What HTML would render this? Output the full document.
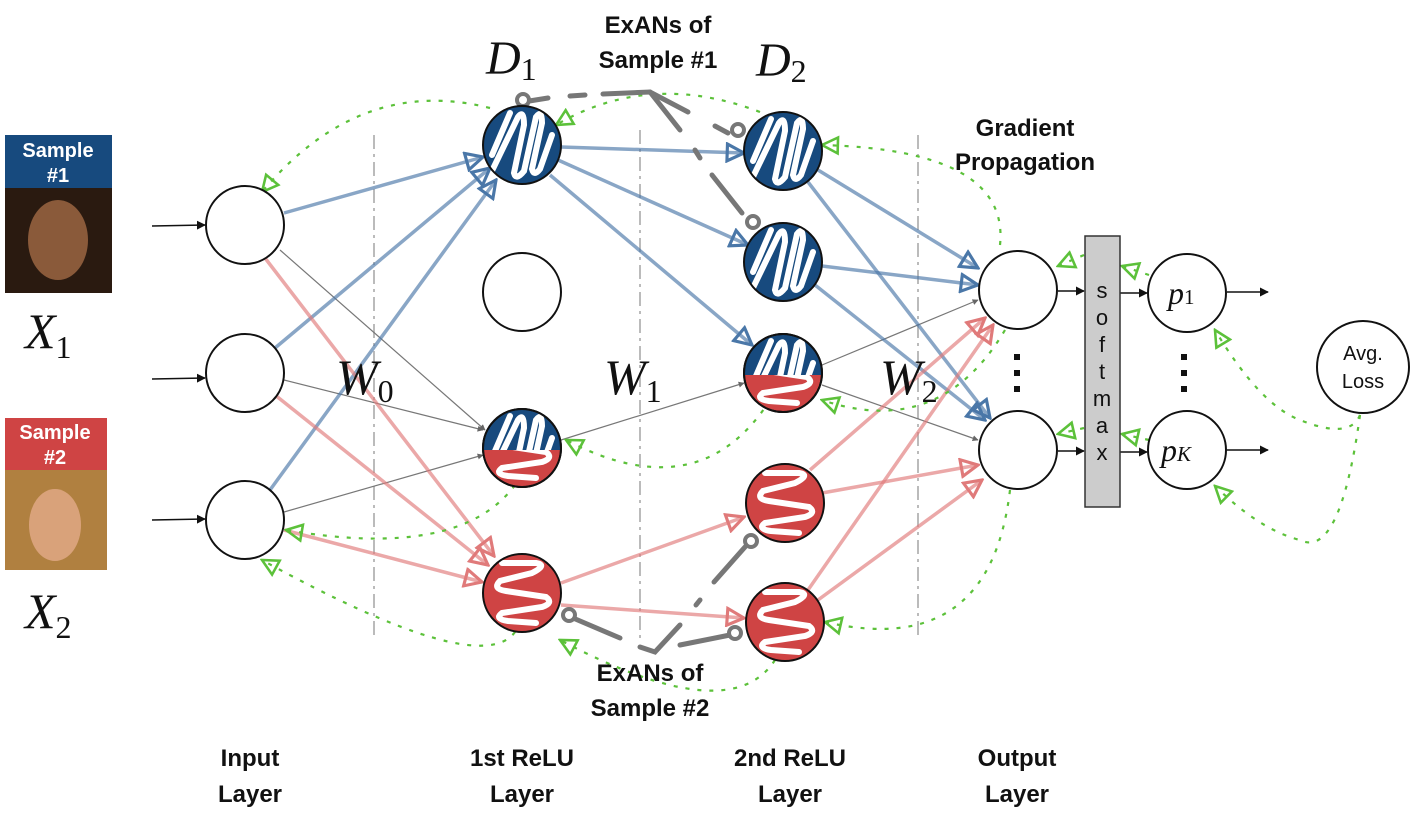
<!DOCTYPE html>
<html><head><meta charset="utf-8"><style>
html,body{margin:0;padding:0;background:#fff;}
svg{display:block;}
.b{font-family:"Liberation Sans",sans-serif;font-weight:bold;fill:#111;}
.m{font-family:"Liberation Serif",serif;font-style:italic;fill:#111;}
</style></head><body>
<svg width="1411" height="819" viewBox="0 0 1411 819" xmlns="http://www.w3.org/2000/svg">
<defs>
<marker id="ab" viewBox="0 0 10 10" refX="9" refY="5" markerWidth="6" markerHeight="6" orient="auto"><path d="M0,0 L10,5 L0,10 z" fill="#111"/></marker>
<marker id="ag" viewBox="0 0 10 10" refX="9" refY="5" markerWidth="5" markerHeight="5" orient="auto"><path d="M0,0 L10,5 L0,10 z" fill="#666"/></marker>
<marker id="abl" viewBox="0 0 10 10" refX="9" refY="5" markerWidth="6" markerHeight="6" orient="auto"><path d="M1,1 L9,5 L1,9 z" fill="none" stroke="#4a77a8" stroke-width="1.5"/></marker>
<marker id="ard" viewBox="0 0 10 10" refX="9" refY="5" markerWidth="6" markerHeight="6" orient="auto"><path d="M1,1 L9,5 L1,9 z" fill="none" stroke="#e07a7a" stroke-width="1.5"/></marker>
<marker id="agr" viewBox="0 0 10 10" refX="9" refY="5" markerWidth="9" markerHeight="9" orient="auto"><path d="M1,1 L9,5 L1,9 z" fill="none" stroke="#5cc13a" stroke-width="1.3"/></marker>
<clipPath id="cc"><circle cx="0" cy="0" r="39"/></clipPath>
<g id="bw"><circle r="39" fill="#174a7e"/><path clip-path="url(#cc)" d="M-30,10 L-12,-32 M-32,30 L-4,-28 Q2,-36 2,-20 L-8,28 Q-6,36 2,26 L14,-28 Q20,-36 20,-22 L10,24 Q12,32 18,24 L30,-10" fill="none" stroke="#fff" stroke-width="6" stroke-linecap="round"/><circle r="39" fill="none" stroke="#111" stroke-width="2"/></g>
<g id="rw"><circle r="39" fill="#cf4444"/><path clip-path="url(#cc)" d="M-20,-30 L14,-30 Q26,-28 10,-20 L-22,-12 Q-30,-4 -16,-2 L24,4 Q32,10 20,14 L-20,20 Q-28,26 -14,28 L14,30" fill="none" stroke="#fff" stroke-width="6" stroke-linecap="round"/><circle r="39" fill="none" stroke="#111" stroke-width="2"/></g>
<clipPath id="top"><rect x="-40" y="-40" width="80" height="42"/></clipPath>
<clipPath id="bot"><rect x="-40" y="2" width="80" height="40"/></clipPath>
<g id="hw"><g clip-path="url(#top)"><use href="#bw"/></g><g clip-path="url(#bot)"><use href="#rw"/></g><circle r="39" fill="none" stroke="#111" stroke-width="2"/></g>
</defs>

<g stroke="#bbb" stroke-width="2" stroke-dasharray="14,5,3,5">
<line x1="374" y1="135" x2="374" y2="640"/><line x1="640" y1="130" x2="640" y2="640"/><line x1="918" y1="135" x2="918" y2="640"/>
</g>

<g stroke="#777" stroke-width="1.2" fill="none" marker-end="url(#ag)">
<line x1="280" y1="250" x2="485" y2="430"/><line x1="284" y1="380" x2="483" y2="430"/><line x1="284" y1="512" x2="483" y2="455"/>
<line x1="561" y1="440" x2="744" y2="383"/><line x1="822" y1="365" x2="978" y2="300"/><line x1="822" y1="385" x2="978" y2="440"/>
</g>
<g stroke="#4a77a8" stroke-opacity="0.65" stroke-width="3.5" fill="none" marker-end="url(#abl)">
<line x1="284" y1="213" x2="483" y2="157"/><line x1="275" y1="348" x2="490" y2="168"/><line x1="270" y1="490" x2="496" y2="180"/>
<line x1="561" y1="147" x2="744" y2="153"/><line x1="558" y1="160" x2="748" y2="245"/><line x1="550" y1="175" x2="752" y2="345"/>
<line x1="808" y1="182" x2="990" y2="418"/><line x1="818" y1="170" x2="978" y2="268"/><line x1="822" y1="266" x2="978" y2="285"/><line x1="815" y1="285" x2="985" y2="420"/>
</g>
<g stroke="#e07a7a" stroke-opacity="0.65" stroke-width="3.5" fill="none" marker-end="url(#ard)">
<line x1="265" y1="258" x2="494" y2="556"/><line x1="275" y1="395" x2="488" y2="565"/><line x1="284" y1="530" x2="482" y2="582"/>
<line x1="561" y1="583" x2="744" y2="517"/><line x1="561" y1="605" x2="744" y2="618"/>
<line x1="810" y1="470" x2="985" y2="318"/><line x1="822" y1="493" x2="978" y2="465"/><line x1="808" y1="590" x2="993" y2="325"/><line x1="818" y1="600" x2="982" y2="480"/>
</g>

<g stroke="#111" stroke-width="1.5" marker-end="url(#ab)">
<line x1="152" y1="226" x2="205" y2="225"/><line x1="152" y1="379" x2="205" y2="378"/><line x1="152" y1="520" x2="205" y2="519"/>
<line x1="1058" y1="291" x2="1084" y2="291"/><line x1="1058" y1="451" x2="1084" y2="451"/>
<line x1="1120" y1="293" x2="1147" y2="293"/><line x1="1120" y1="452" x2="1147" y2="452"/>
<line x1="1227" y1="292" x2="1268" y2="292"/><line x1="1227" y1="450" x2="1268" y2="450"/>
</g>

<g stroke="#5cc13a" stroke-width="2.2" stroke-dasharray="4,8" fill="none" marker-end="url(#agr)">
<path d="M490,108 Q360,75 262,192"/>
<path d="M760,112 Q650,70 556,125"/>
<path d="M1000,245 Q1010,150 822,145"/>
<path d="M770,400 Q700,510 566,440"/>
<path d="M1005,330 Q940,440 822,400"/>
<path d="M515,485 Q460,560 286,530"/>
<path d="M515,632 Q480,680 262,560"/>
<path d="M775,660 Q730,730 560,640"/>
<path d="M1010,490 Q990,660 825,622"/>
<path d="M1084,255 L1058,266"/>
<path d="M1149,275 L1122,266"/>
<path d="M1084,428 L1058,434"/>
<path d="M1149,440 L1122,434"/>
<path d="M1360,415 Q1350,440 1300,420 Q1260,405 1215,330"/>
<path d="M1360,415 Q1340,560 1300,540 Q1260,530 1215,486"/>
</g>

<g stroke="#777" stroke-width="5" fill="none" stroke-linecap="round">
<path d="M523,102 L548,98" /><path d="M570,96 L585,95"/><path d="M603,94 L650,92 L688,112"/>
<path d="M650,92 L680,130"/><path d="M715,126 L728,133"/>
<path d="M695,150 L700,158"/><path d="M712,175 L742,213"/>
<path d="M573,618 L620,638"/><path d="M640,647 L655,652 L680,625"/><path d="M696,605 L700,600"/><path d="M714,582 L745,547"/>
<path d="M680,645 L730,635"/>
</g>
<g fill="#fff" stroke="#777" stroke-width="4">
<circle cx="523" cy="100" r="6"/><circle cx="738" cy="130" r="6"/><circle cx="753" cy="222" r="6"/>
<circle cx="569" cy="615" r="6"/><circle cx="751" cy="541" r="6"/><circle cx="735" cy="633" r="6"/>
</g>

<g fill="#fff" stroke="#111" stroke-width="2">
<circle cx="245" cy="225" r="39"/><circle cx="245" cy="373" r="39"/><circle cx="245" cy="520" r="39"/>
<circle cx="522" cy="292" r="39"/>
<circle cx="1018" cy="290" r="39"/><circle cx="1018" cy="450" r="39"/>
<circle cx="1187" cy="293" r="39"/><circle cx="1187" cy="450" r="39"/>
<circle cx="1363" cy="367" r="46"/>
</g>
<use href="#bw" x="522" y="145"/><use href="#hw" x="522" y="448"/><use href="#rw" x="522" y="593"/>
<use href="#bw" x="783" y="151"/><use href="#bw" x="783" y="262"/><use href="#hw" x="783" y="373"/><use href="#rw" x="785" y="503"/><use href="#rw" x="785" y="622"/>

<rect x="1085" y="236" width="35" height="271" fill="#ccc" stroke="#333" stroke-width="1.5"/>
<g font-family="Liberation Sans,sans-serif" font-size="22" fill="#111" text-anchor="middle">
<text x="1102" y="298">s</text><text x="1102" y="325">o</text><text x="1102" y="352">f</text><text x="1102" y="379">t</text><text x="1102" y="406">m</text><text x="1102" y="433">a</text><text x="1102" y="460">x</text>
</g>
<g fill="#111"><rect x="1014" y="354" width="6" height="6"/><rect x="1014" y="370" width="6" height="6"/><rect x="1014" y="386" width="6" height="6"/>
<rect x="1181" y="354" width="6" height="6"/><rect x="1181" y="370" width="6" height="6"/><rect x="1181" y="386" width="6" height="6"/></g>
<text x="1363" y="360" font-family="Liberation Sans,sans-serif" font-size="20" text-anchor="middle" fill="#111">Avg.</text>
<text x="1363" y="388" font-family="Liberation Sans,sans-serif" font-size="20" text-anchor="middle" fill="#111">Loss</text>
<text class="m" x="1168" y="304" font-size="32">p<tspan font-size="21" font-style="normal">1</tspan></text>
<text class="m" x="1161" y="461" font-size="32">p<tspan font-size="21">K</tspan></text>

<rect x="5" y="135" width="107" height="53" fill="#174a7e"/>
<rect x="5" y="188" width="107" height="105" fill="#2a1a10"/>
<ellipse cx="58" cy="240" rx="30" ry="40" fill="#8a5a3a"/>
<text x="58" y="157" class="b" font-size="20" text-anchor="middle" style="fill:#fff">Sample</text>
<text x="58" y="182" class="b" font-size="20" text-anchor="middle" style="fill:#fff">#1</text>
<rect x="5" y="418" width="102" height="52" fill="#cf4444"/>
<rect x="5" y="470" width="102" height="100" fill="#b08040"/>
<ellipse cx="55" cy="525" rx="26" ry="36" fill="#d9a27a"/>
<text x="55" y="439" class="b" font-size="20" text-anchor="middle" style="fill:#fff">Sample</text>
<text x="55" y="464" class="b" font-size="20" text-anchor="middle" style="fill:#fff">#2</text>

<text class="m" x="25" y="348" font-size="50">X<tspan font-size="32" font-style="normal" dy="10">1</tspan></text>
<text class="m" x="25" y="628" font-size="50">X<tspan font-size="32" font-style="normal" dy="10">2</tspan></text>
<text class="m" x="336" y="394" font-size="50">W<tspan font-size="32" font-style="normal" dy="8">0</tspan></text>
<text class="m" x="604" y="394" font-size="50">W<tspan font-size="32" font-style="normal" dy="8">1</tspan></text>
<text class="m" x="880" y="394" font-size="50">W<tspan font-size="32" font-style="normal" dy="8">2</tspan></text>
<text class="m" x="486" y="74" font-size="48">D<tspan font-size="32" font-style="normal" dy="6">1</tspan></text>
<text class="m" x="756" y="76" font-size="48">D<tspan font-size="32" font-style="normal" dy="6">2</tspan></text>

<g class="b" font-size="24" text-anchor="middle">
<text x="658" y="33">ExANs of</text><text x="658" y="68">Sample #1</text>
<text x="1025" y="136">Gradient</text><text x="1025" y="170">Propagation</text>
<text x="650" y="681">ExANs of</text><text x="650" y="716">Sample #2</text>
<text x="250" y="766">Input</text><text x="250" y="802">Layer</text>
<text x="522" y="766">1st ReLU</text><text x="522" y="802">Layer</text>
<text x="790" y="766">2nd ReLU</text><text x="790" y="802">Layer</text>
<text x="1017" y="766">Output</text><text x="1017" y="802">Layer</text>
</g>
</svg>
</body></html>
